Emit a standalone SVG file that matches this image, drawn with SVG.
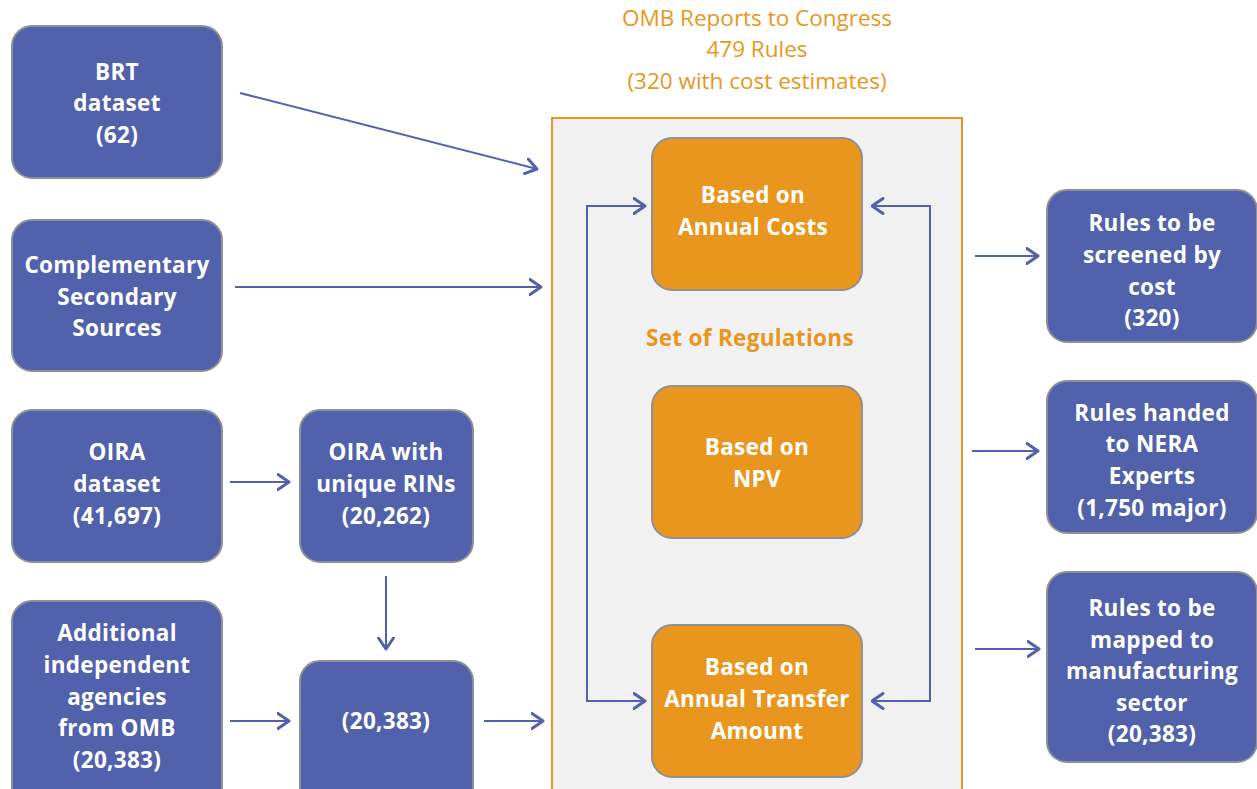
<svg xmlns="http://www.w3.org/2000/svg" width="1257" height="789" viewBox="0 0 1257 789">
<style>
.bn{fill:#5161ab;stroke:#8f8f96;stroke-width:2}
.on{fill:#e8961d;stroke:#8f8f96;stroke-width:2}
.t{font-family:"Open Sans","Liberation Sans",sans-serif;font-weight:700;font-size:22.5px;letter-spacing:0.3px;fill:#ffffff;text-anchor:middle}
.ti{font-family:"Open Sans","Liberation Sans",sans-serif;font-size:22.5px;fill:#e8961d;text-anchor:middle}
.c{fill:none;stroke:#5161ab;stroke-width:2}
</style>
<defs>
<marker id="ah" viewBox="0 0 14 18" refX="12.5" refY="9" markerWidth="14" markerHeight="18" markerUnits="userSpaceOnUse" orient="auto">
<path d="M1.5,1.5 L12.5,9 L1.5,16.5" fill="none" stroke="#5161ab" stroke-width="3" stroke-linecap="round" stroke-linejoin="round"/>
</marker>
</defs>
<rect width="1257" height="789" fill="#ffffff"/>
<g id="title">
<text class="ti" x="757" y="26">OMB Reports to Congress</text>
<text class="ti" x="757" y="57">479 Rules</text>
<text class="ti" x="757" y="89">(320 with cost estimates)</text>
</g>
<g id="container">
<rect x="552" y="118" width="410" height="690" fill="#f1f1f1" stroke="#e8961d" stroke-width="2"/>
<text class="t" x="750" y="346" style="fill:#e8961d">Set of Regulations</text>
</g>
<g id="connectors">
<line class="c" x1="240" y1="93" x2="537" y2="169" marker-end="url(#ah)"/>
<line class="c" x1="235" y1="287" x2="541" y2="287" marker-end="url(#ah)"/>
<line class="c" x1="230" y1="482" x2="289" y2="482" marker-end="url(#ah)"/>
<line class="c" x1="386" y1="576" x2="386" y2="649" marker-end="url(#ah)"/>
<line class="c" x1="230" y1="721" x2="289" y2="721" marker-end="url(#ah)"/>
<line class="c" x1="484" y1="721" x2="543" y2="721" marker-end="url(#ah)"/>
<polyline class="c" points="645,206 587,206 587,701 645,701" marker-end="url(#ah)"/>
<line class="c" x1="600" y1="206" x2="645" y2="206" marker-end="url(#ah)"/>
<polyline class="c" points="872,206 930,206 930,701 872,701" marker-end="url(#ah)"/>
<line class="c" x1="920" y1="206" x2="872" y2="206" marker-end="url(#ah)"/>
<line class="c" x1="975" y1="256" x2="1038" y2="256" marker-end="url(#ah)"/>
<line class="c" x1="972" y1="451" x2="1038" y2="451" marker-end="url(#ah)"/>
<line class="c" x1="975" y1="649" x2="1039" y2="649" marker-end="url(#ah)"/>
</g>
<g id="brt">
<rect class="bn" x="12" y="26" width="210" height="152" rx="20"/>
<text class="t" x="117" y="80">BRT</text>
<text class="t" x="117" y="111">dataset</text>
<text class="t" x="117" y="143">(62)</text>
</g>
<g id="complementary">
<rect class="bn" x="12" y="220" width="210" height="151" rx="20"/>
<text class="t" x="117" y="273">Complementary</text>
<text class="t" x="117" y="305">Secondary</text>
<text class="t" x="117" y="336">Sources</text>
</g>
<g id="oira">
<rect class="bn" x="12" y="410" width="210" height="152" rx="20"/>
<text class="t" x="117" y="460">OIRA</text>
<text class="t" x="117" y="492">dataset</text>
<text class="t" x="117" y="524">(41,697)</text>
</g>
<g id="oira-rins">
<rect class="bn" x="300" y="410" width="173" height="152" rx="20"/>
<text class="t" x="386" y="460">OIRA with</text>
<text class="t" x="386" y="492">unique RINs</text>
<text class="t" x="386" y="524">(20,262)</text>
</g>
<g id="additional">
<rect class="bn" x="12" y="601" width="210" height="210" rx="20"/>
<text class="t" x="117" y="641">Additional</text>
<text class="t" x="117" y="673">independent</text>
<text class="t" x="117" y="705">agencies</text>
<text class="t" x="117" y="736">from OMB</text>
<text class="t" x="117" y="768">(20,383)</text>
</g>
<g id="combined">
<rect class="bn" x="300" y="661" width="173" height="160" rx="20"/>
<text class="t" x="386" y="729">(20,383)</text>
</g>
<g id="annual-costs">
<rect class="on" x="652" y="138" width="210" height="152" rx="20"/>
<text class="t" x="753" y="203">Based on</text>
<text class="t" x="753" y="235">Annual Costs</text>
</g>
<g id="npv">
<rect class="on" x="652" y="386" width="210" height="152" rx="20"/>
<text class="t" x="757" y="455">Based on</text>
<text class="t" x="757" y="487">NPV</text>
</g>
<g id="transfer">
<rect class="on" x="652" y="625" width="210" height="152" rx="20"/>
<text class="t" x="757" y="675">Based on</text>
<text class="t" x="757" y="707">Annual Transfer</text>
<text class="t" x="757" y="739">Amount</text>
</g>
<g id="screened">
<rect class="bn" x="1047" y="190" width="210" height="152" rx="20"/>
<text class="t" x="1152" y="231">Rules to be</text>
<text class="t" x="1152" y="263">screened by</text>
<text class="t" x="1152" y="295">cost</text>
<text class="t" x="1152" y="326">(320)</text>
</g>
<g id="nera">
<rect class="bn" x="1047" y="381" width="210" height="152" rx="20"/>
<text class="t" x="1152" y="421">Rules handed</text>
<text class="t" x="1152" y="452">to NERA</text>
<text class="t" x="1152" y="484">Experts</text>
<text class="t" x="1152" y="516">(1,750 major)</text>
</g>
<g id="mapped">
<rect class="bn" x="1047" y="572" width="210" height="190" rx="20"/>
<text class="t" x="1152" y="616">Rules to be</text>
<text class="t" x="1152" y="648">mapped to</text>
<text class="t" x="1152" y="679">manufacturing</text>
<text class="t" x="1152" y="711">sector</text>
<text class="t" x="1152" y="742">(20,383)</text>
</g>
</svg>
